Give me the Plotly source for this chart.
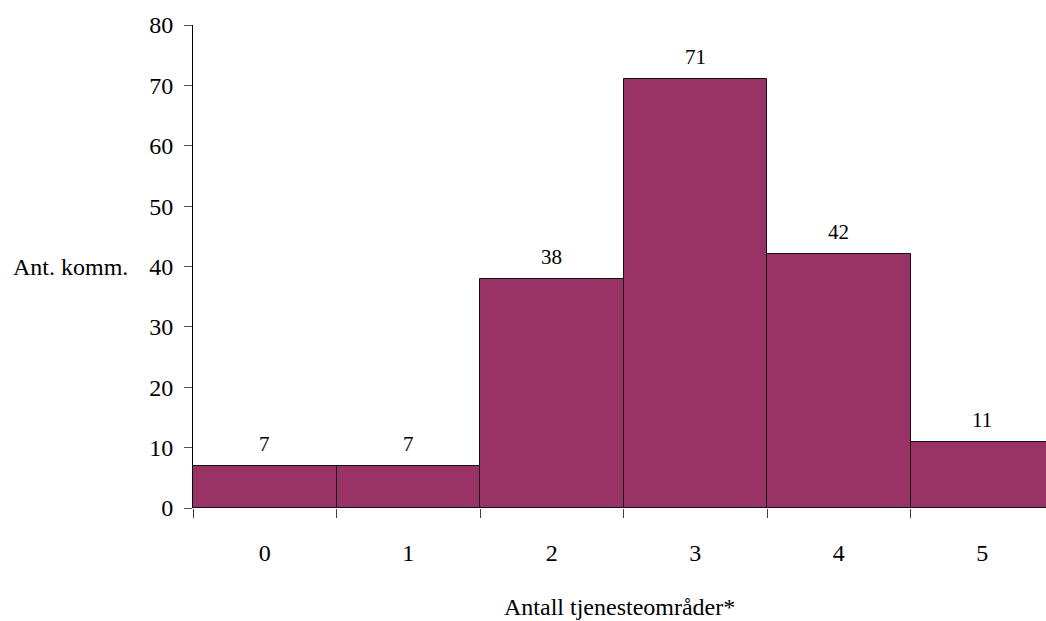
import plotly.graph_objects as go

# Antall kommuner fordelt på antall tjenesteområder
categories = [0, 1, 2, 3, 4, 5]
counts = [7, 7, 38, 71, 42, 11]
y_ticks = [0, 10, 20, 30, 40, 50, 60, 70, 80]
bar_edges = [-0.5, 0.5, 1.5, 2.5, 3.5, 4.5, 5.5]

FONT = "Liberation Serif, Times New Roman, serif"

fig = go.Figure(
    go.Bar(
        x=categories,
        y=counts,
        width=1.0,
        marker=dict(color="#993366", line=dict(color="#111111", width=1)),
        hoverinfo="x+y",
    )
)

# value labels above each bar
for c, v in zip(categories, counts):
    fig.add_annotation(
        x=c, y=v, text=str(v), showarrow=False,
        xanchor="center", yanchor="bottom", yshift=8,
        font=dict(family=FONT, size=21, color="black"),
    )

fig.update_layout(
    width=1046,
    height=621,
    margin=dict(l=193, r=0, t=25, b=113),
    plot_bgcolor="white",
    paper_bgcolor="white",
    showlegend=False,
    font=dict(family=FONT, color="black"),
    bargap=0,
)

fig.update_xaxes(
    range=[-0.5, 5.444],
    tickvals=categories,
    ticktext=[str(c) for c in categories],
    ticks="",
    tickfont=dict(family=FONT, size=24),
    ticklabelstandoff=28,
    showgrid=False,
    zeroline=False,
    showline=False,
    minor=dict(tickvals=bar_edges, ticks="outside", ticklen=9,
               tickcolor="#444444", tickwidth=1, showgrid=False),
)

fig.update_yaxes(
    range=[0, 80],
    tickvals=y_ticks,
    ticks="outside",
    ticklen=8,
    tickcolor="#555555",
    tickfont=dict(family=FONT, size=24),
    ticklabelstandoff=6,
    showgrid=False,
    zeroline=False,
    showline=True,
    linecolor="black",
    linewidth=1,
)

fig.add_annotation(
    text="Ant. komm.", xref="paper", yref="paper", x=-0.213, y=0.5,
    xanchor="left", yanchor="middle", showarrow=False,
    font=dict(family=FONT, size=24),
)
fig.add_annotation(
    text="Antall tjenesteområder*", xref="paper", yref="paper", x=0.5, y=-0.205,
    xanchor="center", yanchor="middle", showarrow=False,
    font=dict(family=FONT, size=24),
)

fig.write_html("out.html")
